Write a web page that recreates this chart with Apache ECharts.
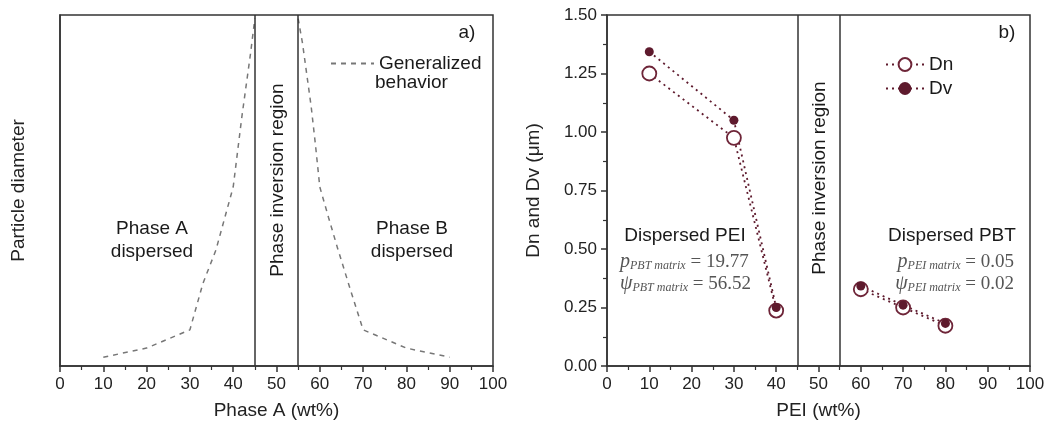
<!DOCTYPE html>
<html>
<head>
<meta charset="utf-8">
<script src="https://cdn.jsdelivr.net/npm/echarts@6/dist/echarts.min.js"></script>
<style>
  html, body { margin: 0; padding: 0; background: #fff; }
  #chart { width: 1056px; height: 425px; }
</style>
</head>
<body>
<div id="chart"></div>
<script>
// panel a) generalized behaviour (arbitrary units)
const curveX = [10, 20, 30, 33, 36, 38, 40, 41, 42, 43, 44, 45, 55, 56, 57, 58, 59, 60, 62, 64, 67, 70, 80, 90];
const curveY = [2.5, 5.1, 10.3, 23.5, 33, 42, 51, 61, 71, 80, 89, 99, 99, 92, 83, 74, 63, 51, 42.4, 34, 22, 10.3, 5.1, 2.5];

// panel b) measured diameters
const peiWt = [10, 30, 40, 60, 70, 80];
const dn = [1.25, 0.975, 0.237, 0.328, 0.25, 0.172];
const dv = [1.343, 1.05, 0.25, 0.342, 0.26, 0.182];

const inversion = [45, 55];
const xTicks = [0, 10, 20, 30, 40, 50, 60, 70, 80, 90, 100];
const yTicksB = [0, 0.25, 0.5, 0.75, 1.0, 1.25, 1.5];

const FONT = "Liberation Sans";
const maroon = "#5e1a2d";

// break the line where it would cross the inversion region
function withGap(xs, ys) {
  let out = [];
  xs.forEach((x, i) => {
    if (i > 0 && xs[i - 1] <= inversion[0] && x >= inversion[1]) {
      out.push([(inversion[0] + inversion[1]) / 2, "-"]);
    }
    out.push([x, ys[i]]);
  });
  return out;
}

function xAxisOpt(grid, name) {
  return {
    type: "value",
    gridIndex: grid,
    min: xTicks[0],
    max: xTicks[xTicks.length - 1],
    interval: 10,
    name: name,
    nameLocation: "middle",
    nameGap: 35,
    nameTextStyle: { fontFamily: FONT, fontSize: 19, color: "#222" },
    axisLine: { lineStyle: { color: "#333", width: 1.5 } },
    axisTick: { inside: false, length: 6, lineStyle: { color: "#333", width: 1.5 } },
    minorTick: { show: true, splitNumber: 2, length: 4, lineStyle: { color: "#333", width: 1.2 } },
    axisLabel: { fontFamily: FONT, fontSize: 17, color: "#222", margin: 10 },
    splitLine: { show: false }
  };
}

const dotted = { type: [2, 4], width: 1.8, color: maroon };
const regionLines = {
  silent: true,
  symbol: "none",
  label: { show: false },
  lineStyle: { color: "#333", type: "solid", width: 1.5 },
  data: inversion.map(v => ({ xAxis: v }))
};

function mathText(x, y, sym, sub, val, align) {
  return {
    type: "text",
    x: x, y: y,
    style: {
      text: "{m|" + sym + "}{s|" + sub + "}{n| = " + val + "}",
      align: align,
      verticalAlign: "middle",
      fill: "#555",
      rich: {
        m: { fontFamily: "Liberation Serif", fontStyle: "italic", fontSize: 20, fill: "#555", lineHeight: 20 },
        s: { fontFamily: "Liberation Serif", fontStyle: "italic", fontSize: 12, fill: "#555", lineHeight: 20, verticalAlign: "bottom", padding: [6, 0, 0, 0] },
        n: { fontFamily: "Liberation Serif", fontSize: 19, fill: "#555", lineHeight: 20 }
      }
    }
  };
}

function label(x, y, text, opts) {
  return Object.assign({
    type: "text",
    x: x, y: y,
    style: Object.assign({
      text: text,
      fontFamily: FONT,
      fontSize: 19,
      fill: "#1a1a1a",
      align: "center",
      verticalAlign: "middle",
      lineHeight: 23
    }, (opts && opts.style) || {})
  }, opts && opts.rotation !== undefined ? { rotation: opts.rotation } : {});
}

let myChart = echarts.init(document.getElementById("chart"), null, { renderer: "canvas" });

let option = {
  backgroundColor: "#fff",
  animation: false,
  grid: [
    { left: 60, top: 15, width: 433, height: 353, show: true, borderColor: "#333", borderWidth: 1.5, backgroundColor: "transparent" },
    { left: 607, top: 15, width: 423, height: 352, show: true, borderColor: "#333", borderWidth: 1.5, backgroundColor: "transparent" }
  ],
  legend: [
    {
      data: ["Generalized behavior"],
      left: 325, top: 49,
      itemWidth: 43, itemHeight: 14,
      formatter: () => "Generalized",
      itemStyle: { color: "transparent", borderColor: "transparent", borderWidth: 0 },
      textStyle: { fontFamily: FONT, fontSize: 19, color: "#1a1a1a" }
    },
    {
      data: ["Dn", "Dv"],
      orient: "vertical",
      left: 880, top: 50,
      itemWidth: 38, itemHeight: 16,
      itemGap: 5,
      textStyle: { fontFamily: FONT, fontSize: 19, color: "#1a1a1a" }
    }
  ],
  xAxis: [xAxisOpt(0, "Phase A (wt%)"), xAxisOpt(1, "PEI (wt%)")],
  yAxis: [
    {
      type: "value",
      gridIndex: 0,
      min: 0, max: 100,
      name: "Particle diameter",
      nameLocation: "middle",
      nameGap: 32,
      nameTextStyle: { fontFamily: FONT, fontSize: 19, color: "#222" },
      axisLine: { show: true, lineStyle: { color: "#333", width: 1.5 } },
      axisTick: { show: false },
      axisLabel: { show: false },
      splitLine: { show: false }
    },
    {
      type: "value",
      gridIndex: 1,
      min: yTicksB[0], max: yTicksB[yTicksB.length - 1],
      interval: 0.25,
      name: "Dn and Dv (\u03bcm)",
      nameLocation: "middle",
      nameGap: 64,
      nameTextStyle: { fontFamily: FONT, fontSize: 19, color: "#222" },
      axisLine: { show: true, lineStyle: { color: "#333", width: 1.5 } },
      axisTick: { length: 6, lineStyle: { color: "#333", width: 1.5 } },
      minorTick: { show: true, splitNumber: 2, length: 4, lineStyle: { color: "#333", width: 1.2 } },
      axisLabel: { fontFamily: FONT, fontSize: 17, color: "#222", margin: 10, formatter: v => v.toFixed(2) },
      splitLine: { show: false }
    }
  ],
  series: [
    {
      name: "Generalized behavior",
      type: "line",
      xAxisIndex: 0, yAxisIndex: 0,
      data: withGap(curveX, curveY),
      symbol: "none",
      connectNulls: false,
      lineStyle: { color: "#777", width: 1.5, type: [5, 5] },
      itemStyle: { color: "#777" },
      markLine: regionLines
    },
    {
      name: "Dn",
      type: "line",
      xAxisIndex: 1, yAxisIndex: 1,
      data: withGap(peiWt, dn),
      symbol: "circle",
      symbolSize: 14,
      connectNulls: false,
      lineStyle: dotted,
      itemStyle: { color: "#fff", borderColor: "#6e2538", borderWidth: 1.8 },
      markLine: regionLines
    },
    {
      name: "Dv",
      type: "line",
      xAxisIndex: 1, yAxisIndex: 1,
      data: withGap(peiWt, dv),
      symbol: "circle",
      symbolSize: 9,
      connectNulls: false,
      lineStyle: dotted,
      itemStyle: { color: maroon }
    }
  ],
  graphic: [
    label(375, 83, "behavior", { style: { align: "left" } }),
    label(467, 33, "a)"),
    label(1007, 33, "b)"),
    label(152, 240, "Phase A\ndispersed"),
    label(412, 240, "Phase B\ndispersed"),
    label(278, 180, "Phase inversion region", { rotation: Math.PI / 2 }),
    label(820, 178, "Phase inversion region", { rotation: Math.PI / 2 }),
    label(685, 236, "Dispersed PEI"),
    label(952, 236, "Dispersed PBT"),
    mathText(620, 262, "p", "PBT matrix", "19.77", "left"),
    mathText(620, 284, "\u03c8", "PBT matrix", "56.52", "left"),
    mathText(1014, 262, "p", "PEI matrix", "0.05", "right"),
    mathText(1014, 284, "\u03c8", "PEI matrix", "0.02", "right")
  ]
};

myChart.setOption(option);
</script>
</body>
</html>
